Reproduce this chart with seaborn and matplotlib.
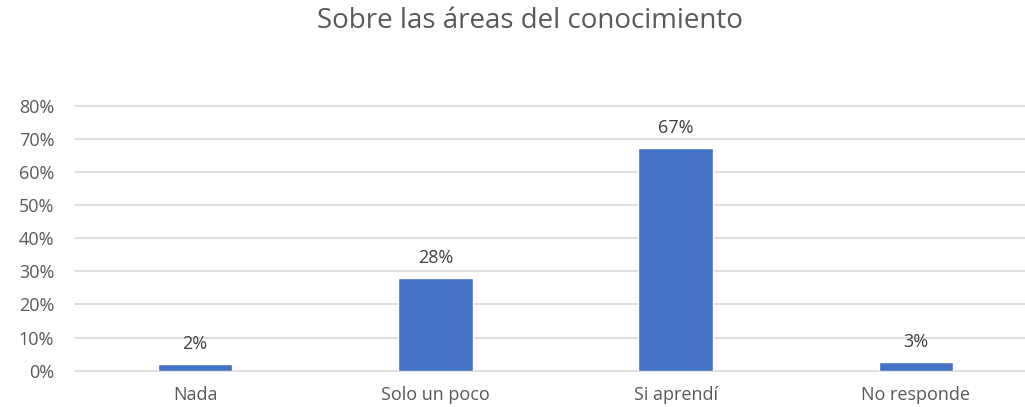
import matplotlib
matplotlib.use("Agg")
import matplotlib.pyplot as plt
import seaborn as sns
import pandas as pd
from matplotlib.ticker import PercentFormatter

categories = ["Nada", "Solo un poco", "Si aprendí", "No responde"]
values = [0.019, 0.279, 0.673, 0.026]
labels = ["2%", "28%", "67%", "3%"]
yticks = [0, 0.1, 0.2, 0.3, 0.4, 0.5, 0.6, 0.7, 0.8]

sns.set_style("white")
plt.rcParams['font.family'] = ['Open Sans', 'DejaVu Sans']

df = pd.DataFrame({"cat": categories, "val": values})

fig = plt.figure(figsize=(10.25, 4.07), dpi=100)
ax = fig.add_axes([75/1025, (407-370.7)/407, 961/1025, 265/407])

sns.barplot(data=df, x="cat", y="val", color="#4472C4", width=0.31, ax=ax, saturation=1)

ax.set_ylim(0, 0.8)
ax.set_xlim(-0.5, 3.5)
ax.set_yticks(yticks)
ax.yaxis.set_major_formatter(PercentFormatter(1.0, decimals=0))
for t in yticks:
    ax.axhline(t, color="#D9D9D9", lw=1.2, zorder=0, clip_on=False)
for s in ax.spines.values():
    s.set_visible(False)
ax.set_xlabel("")
ax.set_ylabel("")
ax.tick_params(axis="y", length=0, pad=15, labelsize=13, labelcolor="#595959")
ax.tick_params(axis="x", length=0, pad=11, labelsize=13, labelcolor="#595959")

for i, (v, lab) in enumerate(zip(values, labels)):
    ax.annotate(lab, (i, v), xytext=(0, 8), textcoords="offset points",
                ha="center", va="bottom", fontsize=13, color="#404040")

fig.text(530/1025, 1 - 21/407, "Sobre las áreas del conocimiento", ha="center", va="center",
         fontsize=20, color="#595959")

fig.savefig("out.png", dpi=100)
